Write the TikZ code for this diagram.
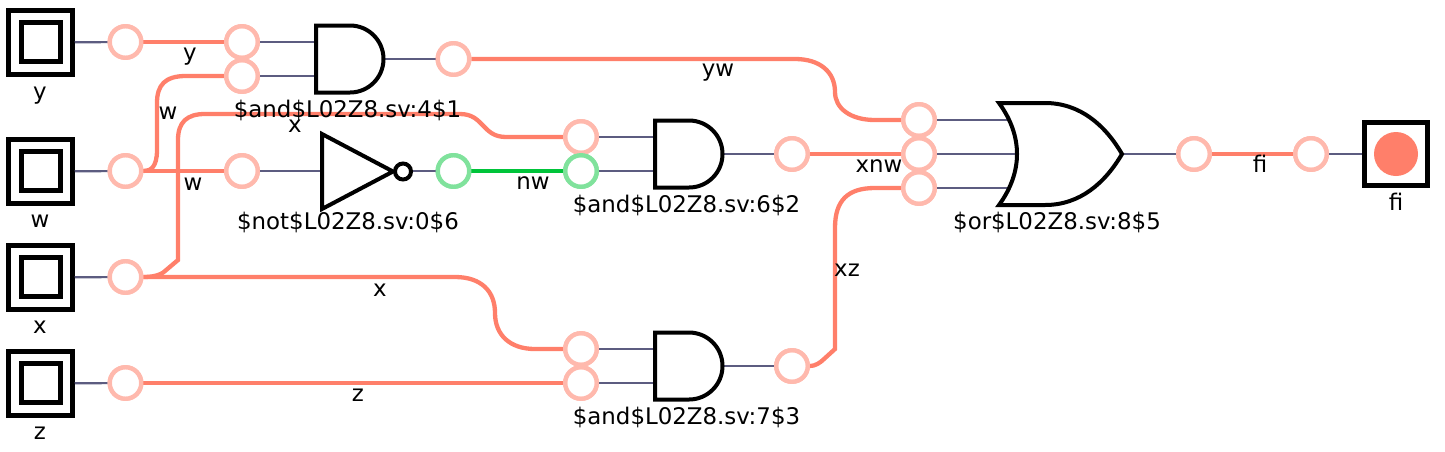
\documentclass[tikz,border=0pt]{standalone}
\usepackage{fontspec}
\setmainfont{DejaVu Sans}
\definecolor{netred}{HTML}{FF7F6A}
\definecolor{pinred}{HTML}{FFB9AD}
\definecolor{netgreen}{HTML}{00C43A}
\definecolor{pingreen}{HTML}{80E29C}
\definecolor{stub}{HTML}{5C5C80}
\tikzset{
  x=1pt,y=-1pt,
  pin/.style={circle,draw=pinred,fill=white,line width=4.4pt,minimum size=31.5pt,inner sep=0pt},
  gpin/.style={pin,draw=pingreen},
  net/.style={draw=netred,line width=4.3pt},
  gnet/.style={draw=netgreen,line width=4.3pt},
  stubw/.style={draw=stub,line width=2.2pt},
  gate/.style={draw=black,line width=4pt,fill=white,line join=miter},
  outerbox/.style={rectangle,draw=black,fill=white,line width=5pt,minimum size=63.5pt,inner sep=0pt},
  innerbox/.style={rectangle,draw=black,fill=white,line width=5pt,minimum size=39.5pt,inner sep=0pt},
  portout/.style={rectangle,draw=black,fill=white,line width=5pt,minimum size=63pt,inner sep=0pt},
  lab/.style={anchor=base,inner sep=0pt,font=\fontsize{22.9pt}{26pt}\selectfont,text=black}
}
\begin{document}
\begin{tikzpicture}
\useasboundingbox (0,0) rectangle (1445,451);
% ports
\node[outerbox] (py) at (40.5,42.5) {};
\node[outerbox] (pw) at (40.5,171.5) {};
\node[outerbox] (px) at (40.5,277.5) {};
\node[outerbox] (pz) at (40.5,383.5) {};
\node[innerbox] (iy) at (41,42) {};
\node[innerbox] (iw) at (41,171) {};
\node[innerbox] (ix) at (41,277) {};
\node[innerbox] (iz) at (41,383) {};
\node[portout] (pf) at (1396,154) {};
\node[circle,fill=netred,minimum size=44pt,inner sep=0pt] (pfdot) at (1396,154) {};
% pins
\node[pin] (a1) at (125.5,42) {};
\node[pin] (a2) at (125.5,171) {};
\node[pin] (a3) at (125.5,277) {};
\node[pin] (a4) at (125.5,383) {};
\node[pin] (g1a) at (242,42) {};
\node[pin] (g1b) at (242,76) {};
\node[pin] (n1a) at (242,171) {};
\node[pin] (g1o) at (453.5,59) {};
\node[gpin] (n1o) at (453.5,171) {};
\node[pin] (g2a) at (581,137) {};
\node[gpin] (g2b) at (581,171) {};
\node[pin] (g2o) at (792,154) {};
\node[pin] (g3a) at (581,349) {};
\node[pin] (g3b) at (581,383) {};
\node[pin] (g3o) at (792,366) {};
\node[pin] (o1a) at (919,120) {};
\node[pin] (o1b) at (919,154) {};
\node[pin] (o1c) at (919,188) {};
\node[pin] (o1o) at (1194,154) {};
\node[pin] (fo) at (1311,154) {};
% gate terminals
\coordinate (t1a) at (316,42);
\coordinate (t1b) at (316,76);
\coordinate (t1o) at (384,59);
\coordinate (tna) at (322,171);
\coordinate (tno) at (412,171);
\coordinate (t2a) at (655,137);
\coordinate (t2b) at (655,171);
\coordinate (t2o) at (723,154);
\coordinate (t3a) at (655,349);
\coordinate (t3b) at (655,383);
\coordinate (t3o) at (723,366);
\coordinate (toa) at (1012,120);
\coordinate (tob) at (1017,154);
\coordinate (toc) at (1012,188);
\coordinate (too) at (1122,154);
% thin stubs
\draw[stubw] (py) -- (a1);
\draw[stubw] (pw) -- (a2);
\draw[stubw] (px) -- (a3);
\draw[stubw] (pz) -- (a4);
\draw[stubw] (g1a) -- (t1a);
\draw[stubw] (g1b) -- (t1b);
\draw[stubw] (t1o) -- (g1o);
\draw[stubw] (n1a) -- (tna);
\draw[stubw] (tno) -- (n1o);
\draw[stubw] (g2a) -- (t2a);
\draw[stubw] (g2b) -- (t2b);
\draw[stubw] (t2o) -- (g2o);
\draw[stubw] (g3a) -- (t3a);
\draw[stubw] (g3b) -- (t3b);
\draw[stubw] (t3o) -- (g3o);
\draw[stubw] (o1a) -- (toa);
\draw[stubw] (o1b) -- (tob);
\draw[stubw] (o1c) -- (toc);
\draw[stubw] (too) -- (o1o);
\draw[stubw] (fo) -- (pf);
% nets
\draw[net] (a1) -- (g1a);
\draw[net] (a2) -- (n1a);
\draw[net] (a2.east) .. controls (150,171) and (157,168) .. (157,150) -- (157,103) .. controls (157,85) and (165,76) .. (186,76) -- (g1b);
\draw[net] (a3.east) .. controls (150,277) and (160,276) .. (165,271) -- (178,260) -- (178,140) .. controls (178,122) and (187,114) .. (205,114) -- (460,114) .. controls (484,114) and (482,137) .. (506,137) -- (g2a);
\draw[net] (a3) -- (455,277) .. controls (482,277) and (495,292) .. (495,313) .. controls (495,335) and (510,349) .. (535,349) -- (g3a);
\draw[net] (a4) -- (g3b);
\draw[gnet] (n1o) -- (g2b);
\draw[net] (g2o) -- (o1b);
\draw[net] (g1o) -- (795,59) .. controls (820,59) and (835,72) .. (835,92) .. controls (835,108) and (850,120) .. (875,120) -- (o1a);
\draw[net] (g3o.east) .. controls (815,366) and (820,363) .. (824,359) -- (835,349) -- (835,228) .. controls (835,200) and (848,188) .. (875,188) -- (o1c);
\draw[net] (o1o) -- (fo);
% redraw pins over nets
\foreach \p in {a1,a2,a3,a4,g1a,g1b,n1a,g1o,g2a,g2o,g3a,g3b,g3o,o1a,o1b,o1c,o1o,fo}
  \node[pin] at (\p) {};
\foreach \p in {n1o,g2b}
  \node[gpin] at (\p) {};
% gates
\draw[gate] (316,25.5) -- (350,25.5) .. controls (368.5,25.5) and (383.5,40.5) .. (383.5,59) .. controls (383.5,77.5) and (368.5,92.5) .. (350,92.5) -- (316,92.5) -- cycle;
\draw[gate] (655,120.5) -- (689,120.5) .. controls (707.5,120.5) and (722.5,135.5) .. (722.5,154) .. controls (722.5,172.5) and (707.5,187.5) .. (689,187.5) -- (655,187.5) -- cycle;
\draw[gate] (655,332.5) -- (689,332.5) .. controls (707.5,332.5) and (722.5,347.5) .. (722.5,366) .. controls (722.5,384.5) and (707.5,399.5) .. (689,399.5) -- (655,399.5) -- cycle;
\draw[gate] (322,134) -- (393,171.5) -- (322,209) -- cycle;
\draw[gate] (403,171.5) circle[radius=8];
\draw[gate] (999,103) -- (1045,103) .. controls (1080,103) and (1105,125) .. (1122,154) .. controls (1105,183) and (1080,205) .. (1045,205) -- (999,205) .. controls (1023,172) and (1023,136) .. (999,103) -- cycle;
% labels
\node[lab] (ly) at (40,99.5) {y};
\node[lab] (lw) at (40,227.5) {w};
\node[lab] (lx) at (40,333.5) {x};
\node[lab] (lz) at (40,439.5) {z};
\node[lab] (lf) at (1396,210.5) {fi};
\node[lab] (wy) at (190,60.5) {y};
\node[lab] (ww1) at (168,119.5) {w};
\node[lab] (ww2) at (193,190.5) {w};
\node[lab] (wx1) at (295,132.5) {x};
\node[lab] (wx2) at (380,296.5) {x};
\node[lab] (wz) at (358,401.5) {z};
\node[lab] (wyw) at (718,76.5) {yw};
\node[lab] (wnw) at (533,189.5) {nw};
\node[lab] (wxnw) at (879,172.5) {xnw};
\node[lab] (wxz) at (847,276.5) {xz};
\node[lab] (wfi) at (1260,172.5) {fi};
\node[lab] (ga1) at (347.5,117.5) {\$and\$L02Z8.sv:4\$1};
\node[lab] (gn) at (348,229.5) {\$not\$L02Z8.sv:0\$6};
\node[lab] (ga2) at (686.5,212.5) {\$and\$L02Z8.sv:6\$2};
\node[lab] (ga3) at (686.5,424.5) {\$and\$L02Z8.sv:7\$3};
\node[lab] (gor) at (1057,229.5) {\$or\$L02Z8.sv:8\$5};
\end{tikzpicture}
\end{document}
